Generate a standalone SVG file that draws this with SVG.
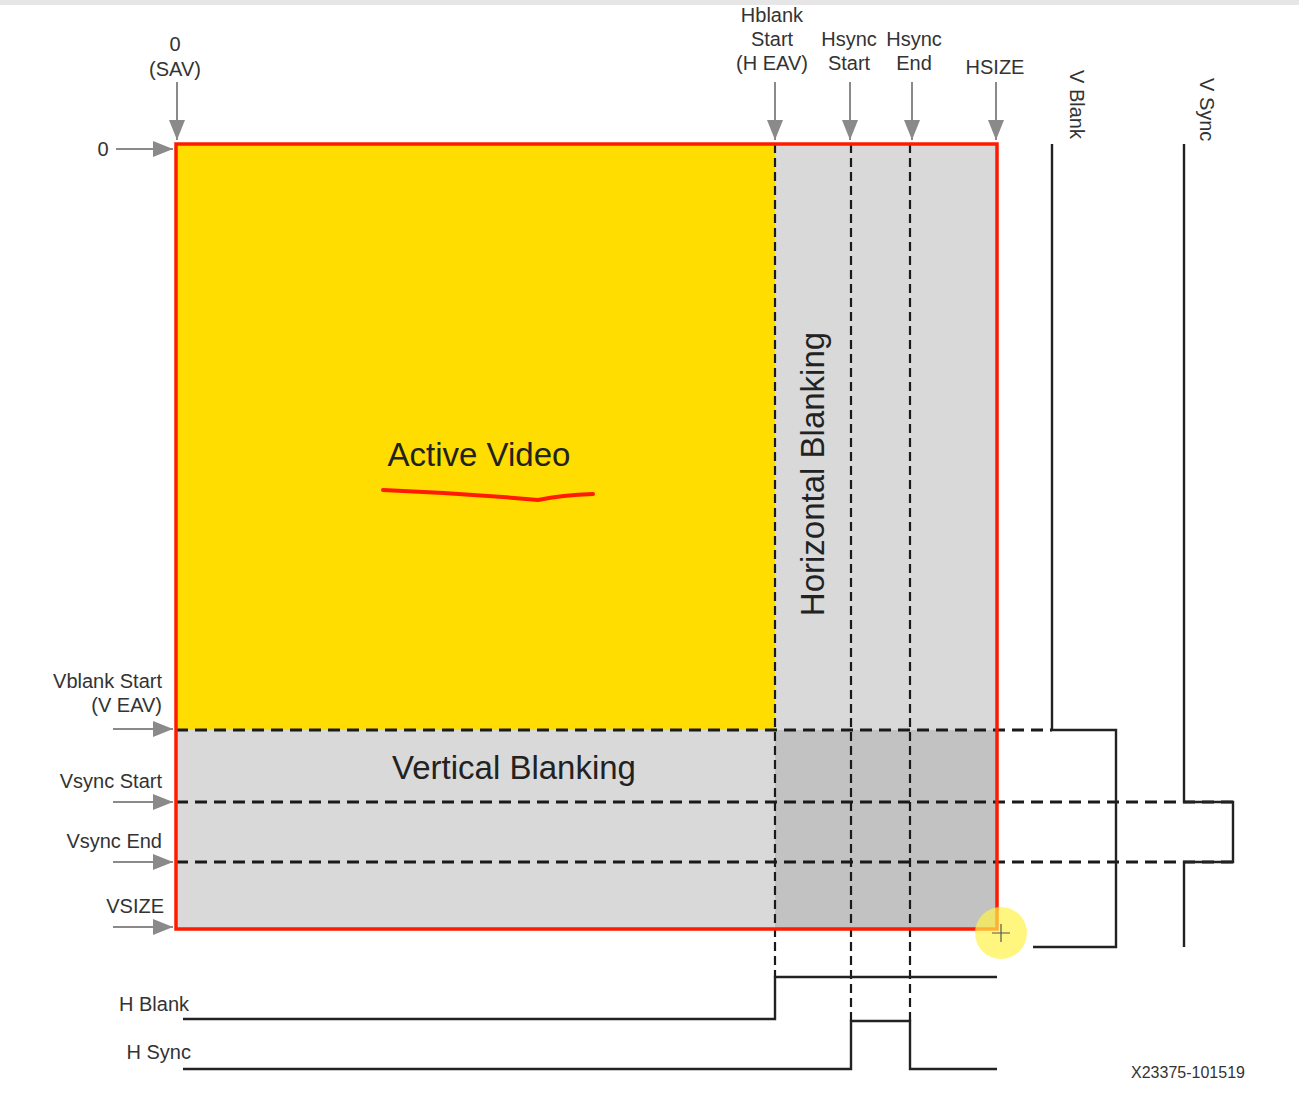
<svg xmlns="http://www.w3.org/2000/svg" width="1299" height="1101" viewBox="0 0 1299 1101">
<defs>
<marker id="ah" markerUnits="userSpaceOnUse" markerWidth="22" markerHeight="16" refX="20" refY="8" orient="auto">
<path d="M0,0 L20,8 L0,16 Z" fill="#8a8a8a"/>
</marker>
<style>
.lbl{font-family:"Liberation Sans",Arial,sans-serif;font-size:20px;fill:#333}
.big{font-family:"Liberation Sans",Arial,sans-serif;font-size:33px;fill:#222}
.arr{stroke:#8a8a8a;stroke-width:2;fill:none;marker-end:url(#ah)}
.dh{stroke:#1a1a1a;stroke-width:2.8;stroke-dasharray:12 7;fill:none}
.dv{stroke:#1a1a1a;stroke-width:2.2;stroke-dasharray:9 5;fill:none}
.wave{stroke:#222;stroke-width:2.4;fill:none}
</style>
</defs>
<rect width="1299" height="1101" fill="#fff"/>
<rect x="0" y="0" width="1299" height="5" fill="#e6e6e6"/>
<g id="frame">
<rect x="176" y="144" width="821" height="785" fill="#d9d9d9"/>
<rect id="active-video-area" x="176" y="144" width="599" height="586" fill="#ffdd00"/>
<rect x="775" y="730" width="222" height="199" fill="#c2c2c2"/>
</g>
<g id="connectors">
<line class="dv" x1="775" y1="144" x2="775" y2="977"/>
<line class="dv" x1="851" y1="144" x2="851" y2="1021"/>
<line class="dv" x1="910" y1="144" x2="910" y2="1021"/>
<line class="dh" x1="176" y1="730" x2="1052" y2="730"/>
<line class="dh" x1="176" y1="802" x2="1233" y2="802"/>
<line class="dh" x1="176" y1="862" x2="1233" y2="862"/>
<rect x="176" y="144" width="821" height="785" fill="none" stroke="#ff1a00" stroke-width="3.5"/>
<line class="arr" x1="177" y1="82" x2="177" y2="140"/>
<line class="arr" x1="775" y1="82" x2="775" y2="140"/>
<line class="arr" x1="850" y1="82" x2="850" y2="140"/>
<line class="arr" x1="912" y1="82" x2="912" y2="140"/>
<line class="arr" x1="996" y1="82" x2="996" y2="140"/>
<line class="arr" x1="116" y1="149" x2="173" y2="149"/>
<line class="arr" x1="113" y1="729" x2="173" y2="729"/>
<line class="arr" x1="113" y1="802" x2="173" y2="802"/>
<line class="arr" x1="113" y1="862" x2="173" y2="862"/>
<line class="arr" x1="113" y1="927" x2="173" y2="927"/>
<path id="hblank-wave" class="wave" d="M183,1019 H775 V977 H997"/>
<path id="hsync-wave" class="wave" d="M183,1069 H851 V1021 H910 V1069 H997"/>
<path id="vblank-wave" class="wave" d="M1052,144 V730 H1116 V947 H1033"/>
<path id="vsync-wave" class="wave" d="M1184,144 V802 H1233 V862 H1184 V947"/>
</g>
<g id="labels">
<text class="lbl" x="175" y="51" text-anchor="middle">0</text>
<text class="lbl" x="175" y="76" text-anchor="middle">(SAV)</text>
<text class="lbl" x="103" y="156" text-anchor="middle">0</text>
<text class="lbl" x="772" y="22" text-anchor="middle">Hblank</text>
<text class="lbl" x="772" y="46" text-anchor="middle">Start</text>
<text class="lbl" x="772" y="70" text-anchor="middle">(H EAV)</text>
<text class="lbl" x="849" y="46" text-anchor="middle">Hsync</text>
<text class="lbl" x="849" y="70" text-anchor="middle">Start</text>
<text class="lbl" x="914" y="46" text-anchor="middle">Hsync</text>
<text class="lbl" x="914" y="70" text-anchor="middle">End</text>
<text class="lbl" x="995" y="74" text-anchor="middle">HSIZE</text>
<text class="lbl" transform="translate(1070,70) rotate(90)">V Blank</text>
<text class="lbl" transform="translate(1200,78) rotate(90)">V Sync</text>
<text class="lbl" x="162" y="688" text-anchor="end">Vblank Start</text>
<text class="lbl" x="162" y="712" text-anchor="end">(V EAV)</text>
<text class="lbl" x="162" y="788" text-anchor="end">Vsync Start</text>
<text class="lbl" x="162" y="848" text-anchor="end">Vsync End</text>
<text class="lbl" x="164" y="913" text-anchor="end">VSIZE</text>
<text class="lbl" x="189" y="1011" text-anchor="end">H Blank</text>
<text class="lbl" x="191" y="1059" text-anchor="end">H Sync</text>
<text class="lbl" x="1188" y="1078" text-anchor="middle" style="font-size:16px">X23375-101519</text>
<text class="big" x="479" y="466" text-anchor="middle">Active Video</text>
<text class="big" x="514" y="779" text-anchor="middle">Vertical Blanking</text>
<text class="big" transform="translate(824,474) rotate(-90)" text-anchor="middle">Horizontal Blanking</text>
</g>
<g id="annotations">
<path d="M383,490 Q460,493 538,500 Q562,495 593,494" stroke="#ff1a00" stroke-width="4" fill="none" stroke-linecap="round"/>
<circle cx="1001" cy="933" r="26" fill="#fff24a" opacity="0.7"/>
<path d="M1001,924 V942 M992,933 H1010" stroke="#555" stroke-width="1.2"/>
</g>
</svg>
